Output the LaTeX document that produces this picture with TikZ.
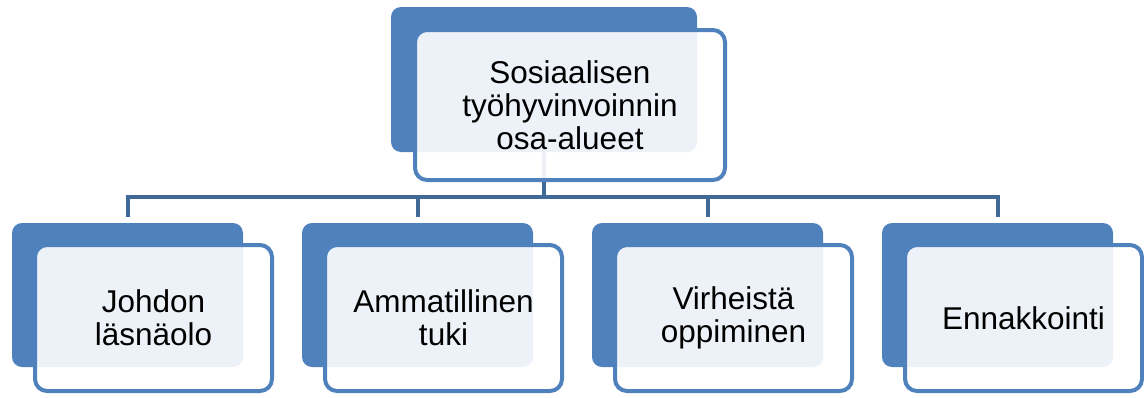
\documentclass[tikz,border=0pt]{standalone}
\usepackage{fontspec}
\setmainfont{Liberation Sans}
\usetikzlibrary{positioning, calc}
\definecolor{sBlue}{RGB}{79,129,189}
\definecolor{sLink}{RGB}{65,105,152}
\tikzset{
    boxB/.style={fill=sBlue, rounded corners=10pt, inner sep=0pt,
        minimum width=231pt, minimum height=144pt},
    boxF/.style={draw=sBlue, line width=4pt, fill=white, fill opacity=0.9, text opacity=1,
        rounded corners=12pt, inner sep=0pt, minimum width=237pt, minimum height=146pt,
        align=center, text=black, font=\fontsize{31.5}{33}\selectfont},
    linkG/.style={draw=sLink, line width=4pt}
}
\begin{document}
\begin{tikzpicture}[x=1pt, y=-1pt]
    \useasboundingbox (0,0) rectangle (1144,397);
    % back boxes
    \node[boxB, minimum width=306pt, minimum height=145pt] (b0) at (544,79.5) {};
    \foreach \i/\x in {1/127.5, 2/417.5, 3/707.5, 4/997.5}
        \node[boxB] (b\i) at (\x,295) {};
    % connectors
    \coordinate (bus) at (0,197);
    \draw[linkG] (b0.south) -- (b0.south |- bus);
    \draw[linkG, shorten <=6pt, shorten >=6pt] (b1.north) -- (b1.north |- bus) -- (b4.north |- bus) -- (b4.north);
    \draw[linkG, shorten <=6pt] (b2.north) -- (b2.north |- bus);
    \draw[linkG, shorten <=6pt] (b3.north) -- (b3.north |- bus);
    % front boxes
    \node[boxF, minimum width=310pt, minimum height=150pt] (f0) at ($(b0)+(26,25.5)$) {Sosiaalisen\\työhyvinvoinnin\\osa-alueet};
    \foreach \i/\txt in {1/{Johdon\\läsnäolo}, 2/{Ammatillinen\\tuki}, 3/{Virheistä\\oppiminen}, 4/{Ennakkointi}}
        \node[boxF] (f\i) at ($(b\i)+(26,23)$) {\txt};
\end{tikzpicture}
\end{document}
